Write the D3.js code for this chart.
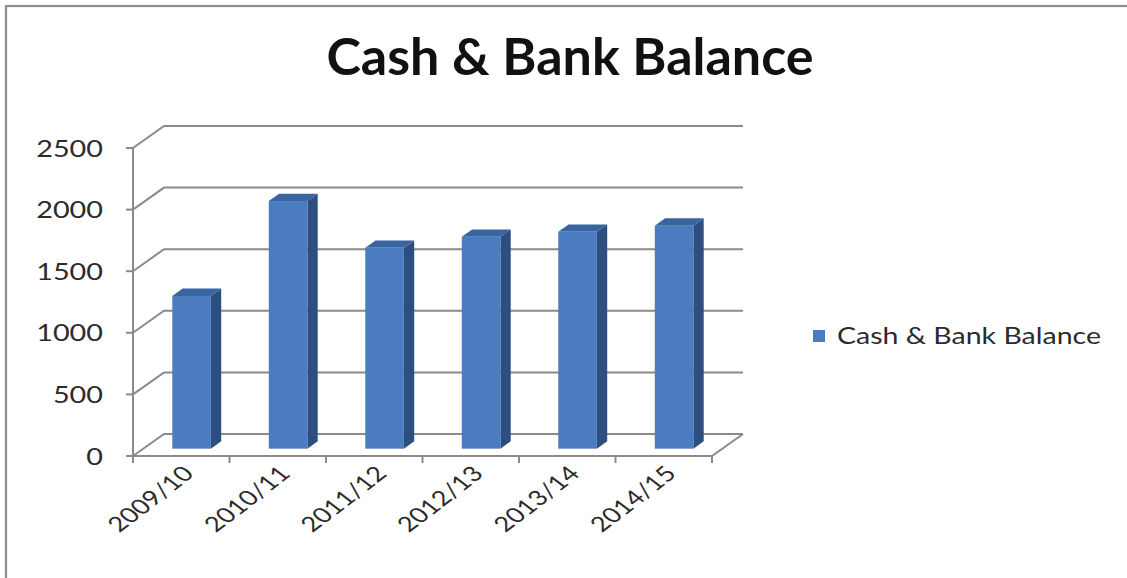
<!DOCTYPE html>
<html>
<head>
<meta charset="utf-8">
<script src="https://cdn.jsdelivr.net/npm/d3@7"></script>
<style>
  html, body { margin: 0; padding: 0; background: #fff; }
  svg { display: block; }
</style>
</head>
<body>
<svg id="chart" width="1127" height="578"></svg>
<script>
// Chart data
const categories = ["2009/10", "2010/11", "2011/12", "2012/13", "2013/14", "2014/15"];
const cashBankBalance = [1240, 2010, 1630, 1720, 1760, 1810];
const yTicks = [0, 500, 1000, 1500, 2000, 2500];
const seriesName = "Cash & Bank Balance";
const chartTitle = "Cash & Bank Balance";

const svg = d3.select("#chart");

// Plot geometry (front plane of the 3-D box)
const plotLeft = 133, plotRight = 712, plotBottom = 456, plotTop = 148;
// offset of the back wall relative to the front plane
const depthX = 31, depthY = -22;
// bars sit in the middle third of the depth
const barFront = 1 / 3, barBack = 2 / 3;
// text is drawn slightly widened
const textStretch = 1.2;

const x = d3.scaleBand().domain(categories).range([plotLeft, plotRight])
  .paddingInner(0.6).paddingOuter(0.3);
const xEdges = d3.scaleBand().domain(categories).range([plotLeft, plotRight]).padding(0);
const y = d3.scaleLinear().domain([0, 2500]).range([plotBottom, plotTop]);

const colors = { front: "#4a7cbf", side: "#2c4f80", top: "#3864a0", grid: "#8a8a8a", text: "#2b2b2b" };

// Outer chart frame
svg.append("rect")
  .attr("x", 6).attr("y", 6).attr("width", 1140).attr("height", 600)
  .attr("fill", "none").attr("stroke", "#8f8f8f").attr("stroke-width", 2.2);

// Title
svg.append("text")
  .attr("x", 570).attr("y", 75)
  .attr("text-anchor", "middle")
  .attr("font-family", "Lato, 'Open Sans', sans-serif")
  .attr("font-weight", "bold")
  .attr("font-size", 52)
  .attr("fill", "#111")
  .text(chartTitle);

// Back-wall gridlines, each with its diagonal on the left side wall
const line = d3.line();
svg.append("g").selectAll("path").data(yTicks).join("path")
  .attr("d", t => line([
    [plotLeft, y(t)],
    [plotLeft + depthX, y(t) + depthY],
    [plotRight + depthX, y(t) + depthY]
  ]))
  .attr("fill", "none").attr("stroke", colors.grid).attr("stroke-width", 2);

// Floor front and right edges
svg.append("path")
  .attr("d", line([[plotLeft, y(0)], [plotRight, y(0)], [plotRight + depthX, y(0) + depthY]]))
  .attr("fill", "none").attr("stroke", colors.grid).attr("stroke-width", 2);

// Value axis line and ticks
svg.append("line")
  .attr("x1", plotLeft).attr("x2", plotLeft).attr("y1", y(2500)).attr("y2", y(0) + 7)
  .attr("stroke", colors.grid).attr("stroke-width", 2);
svg.append("g").selectAll("line").data(yTicks).join("line")
  .attr("x1", plotLeft - 7).attr("x2", plotLeft).attr("y1", d => y(d)).attr("y2", d => y(d))
  .attr("stroke", colors.grid).attr("stroke-width", 2);

// Category tick marks at band edges
const edgeXs = categories.map(c => xEdges(c) + xEdges.bandwidth());
svg.append("g").selectAll("line").data(edgeXs).join("line")
  .attr("x1", d => d).attr("x2", d => d).attr("y1", y(0)).attr("y2", y(0) + 7)
  .attr("stroke", colors.grid).attr("stroke-width", 2);

// Value labels
svg.append("g").selectAll("text").data(yTicks).join("text")
  .attr("transform", d => `translate(103,${y(d) + 8.5}) scale(${textStretch},1)`)
  .attr("text-anchor", "end")
  .attr("font-family", "Lato, 'Open Sans', sans-serif")
  .attr("font-size", 24)
  .attr("fill", colors.text)
  .text(d => d);

// 3-D bars
const fx = barFront * depthX, fy = barFront * depthY;
const bx = barBack * depthX, by = barBack * depthY;
const bars = svg.append("g").selectAll("g").data(categories.map((c, i) => ({ c, v: cashBankBalance[i] }))).join("g");
const w = x.bandwidth();
bars.append("path") // side face
  .attr("d", d => {
    const x1 = x(d.c) + w;
    return line([[x1 + fx, y(0) + fy], [x1 + bx, y(0) + by], [x1 + bx, y(d.v) + by], [x1 + fx, y(d.v) + fy]]) + "Z";
  })
  .attr("fill", colors.side);
bars.append("path") // top face
  .attr("d", d => {
    const x0 = x(d.c), x1 = x0 + w, yy = y(d.v);
    return line([[x0 + fx, yy + fy], [x0 + bx, yy + by], [x1 + bx, yy + by], [x1 + fx, yy + fy]]) + "Z";
  })
  .attr("fill", colors.top);
bars.append("rect") // front face
  .attr("x", d => x(d.c) + fx)
  .attr("y", d => y(d.v) + fy)
  .attr("width", w)
  .attr("height", d => y(0) - y(d.v))
  .attr("fill", colors.front);

// Rotated category labels
svg.append("g").selectAll("text").data(categories).join("text")
  .attr("transform", c => `translate(${xEdges(c) + xEdges.bandwidth() / 2 + 14},${y(0) + 19}) scale(1.3,1) rotate(-45)`)
  .attr("text-anchor", "end")
  .attr("font-family", "Lato, 'Open Sans', sans-serif")
  .attr("font-size", 21)
  .attr("fill", colors.text)
  .text(c => c);

// Legend
const legend = svg.append("g").attr("transform", "translate(813,330)");
legend.append("rect").attr("width", 12).attr("height", 12).attr("fill", colors.front);
legend.append("text")
  .attr("transform", `translate(24,14) scale(1.24,1)`)
  .attr("font-family", "Lato, 'Open Sans', sans-serif")
  .attr("font-size", 23)
  .attr("fill", colors.text)
  .text(seriesName);
</script>
</body>
</html>
